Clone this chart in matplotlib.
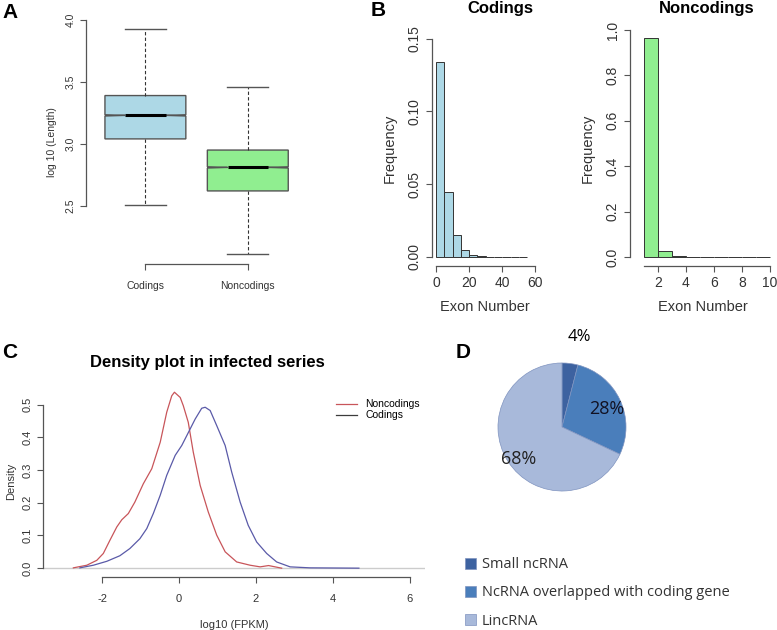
import numpy as np
import matplotlib.pyplot as plt
from matplotlib.lines import Line2D

plt.rcParams['font.family'] = ['Liberation Sans', 'DejaVu Sans']
plt.rcParams['axes.unicode_minus'] = False

# ---- data ----
box_groups = ['Codings', 'Noncodings']
box_q1 = [3.04, 2.62]
box_med = [3.23, 2.81]
box_q3 = [3.39, 2.95]
box_lo = [2.51, 2.11]
box_hi = [3.93, 3.46]

cod_edges = [0, 5, 10, 15, 20, 25, 30, 35, 40, 45, 50, 55]
cod_freq = [0.134, 0.045, 0.015, 0.005, 0.0015, 0.0006, 0.0003, 0.0002, 0.0001, 0.00005, 0.00003]
non_edges = [1, 2, 3, 4, 5, 6, 7, 8, 9, 10]
non_freq = [0.965, 0.027, 0.006, 0.002, 0.001, 0.0005, 0.0003, 0.0002, 0.0001]

nc_x = [-2.75, -2.40, -2.14, -1.97, -1.80, -1.62, -1.49, -1.32, -1.15, -0.93, -0.71,
        -0.49, -0.32, -0.19, -0.12, 0.03, 0.11, 0.24, 0.37, 0.55, 0.76, 0.98, 1.20,
        1.50, 1.85, 2.11, 2.33, 2.50, 2.67]
nc_y = [0.001, 0.009, 0.024, 0.045, 0.085, 0.126, 0.148, 0.167, 0.202, 0.258, 0.304,
        0.385, 0.477, 0.527, 0.538, 0.522, 0.497, 0.446, 0.355, 0.253, 0.172, 0.101, 0.050,
        0.019, 0.009, 0.004, 0.008, 0.004, 0.0]
cd_x = [-2.58, -2.23, -1.88, -1.54, -1.28, -1.02, -0.84, -0.67, -0.49, -0.32, -0.10,
        0.07, 0.20, 0.42, 0.59, 0.68, 0.81, 0.98, 1.20, 1.37, 1.59, 1.80, 2.02, 2.28,
        2.54, 2.89, 3.41, 4.68]
cd_y = [0.001, 0.009, 0.021, 0.038, 0.060, 0.090, 0.121, 0.167, 0.223, 0.284, 0.345,
        0.375, 0.405, 0.456, 0.489, 0.492, 0.482, 0.436, 0.375, 0.294, 0.202, 0.131, 0.080,
        0.045, 0.019, 0.004, 0.001, 0.0]

pie_labels = ['Small ncRNA', 'NcRNA overlapped with coding gene', 'LincRNA']
pie_vals = [4, 28, 68]
pie_colors = ['#3d62a0', '#4a7ebb', '#a8b9da']

W, H = 777, 630
fig = plt.figure(figsize=(W / 100, H / 100), dpi=100)


def px_axes(l, t, r, b):
    return fig.add_axes([l / W, 1 - b / H, (r - l) / W, (b - t) / H])


def r_style(ax, xb, yb, fs):
    for s in ['top', 'right']:
        ax.spines[s].set_visible(False)
    ax.spines['left'].set_bounds(*yb)
    ax.spines['bottom'].set_bounds(*xb)
    for s in ['left', 'bottom']:
        ax.spines[s].set_color('#555555')
        ax.spines[s].set_linewidth(0.9)
    ax.tick_params(colors='#555555', labelcolor='#333333', labelsize=fs, length=4, width=0.8)
    for lab in ax.get_yticklabels():
        lab.set_rotation(90)
        lab.set_va('center')


# ---- A: boxplot ----
axA = px_axes(86, 20, 299, 264)
stats = []
for i, g in enumerate(box_groups):
    stats.append(dict(label=g, med=box_med[i], q1=box_q1[i], q3=box_q3[i],
                      whislo=box_lo[i], whishi=box_hi[i],
                      cilo=box_med[i] - 0.005, cihi=box_med[i] + 0.005, fliers=[]))
bp = axA.bxp(stats, positions=[1, 2], widths=0.79, shownotches=True, patch_artist=True,
             boxprops=dict(edgecolor='#555555', linewidth=1),
             whiskerprops=dict(linestyle=(0, (3, 2)), color='#333333', linewidth=0.8),
             capprops=dict(color='#555555', linewidth=1),
             medianprops=dict(color='black', linewidth=2.2),
             capwidths=0.4)
for patch, c in zip(bp['boxes'], ['#add8e6', '#90ee90']):
    patch.set_facecolor(c)
axA.set_xlim(0.42, 2.5)
axA.set_ylim(2.03, 4.0)
axA.set_yticks([2.5, 3.0, 3.5, 4.0])
axA.set_xticks([1, 2])
axA.set_xticklabels(box_groups)
axA.set_ylabel('log 10 (Length)', fontsize=7.5, color='#333333', labelpad=6)
r_style(axA, (1, 2), (2.5, 4.0), 7.5)
axA.tick_params(axis='x', pad=8)
fig.text(10 / W, 1 - 12 / H, 'A', fontsize=15, fontweight='bold', ha='center', va='center')

# ---- B: histograms ----
axB1 = px_axes(432, 30, 537, 266)
axB1.bar(cod_edges[:-1], cod_freq, width=np.diff(cod_edges), align='edge',
         color='#add8e6', edgecolor='#333333', linewidth=0.7)
axB1.set_xlim(-2.4, 61)
axB1.set_ylim(-0.0062, 0.156)
axB1.set_xticks([0, 20, 40, 60])
axB1.set_yticks([0.0, 0.05, 0.10, 0.15])
axB1.set_yticklabels(['0.00', '0.05', '0.10', '0.15'])
axB1.set_xlabel('Exon Number', fontsize=10.5, color='#333333', labelpad=7)
axB1.set_ylabel('Frequency', fontsize=10.5, color='#333333', labelpad=8)
r_style(axB1, (0, 60), (0, 0.15), 10)
fig.text(500 / W, 1 - 9 / H, 'Codings', fontsize=12, fontweight='bold',
         ha='center', va='center')

axB2 = px_axes(630, 30, 775, 266)
axB2.bar(non_edges[:-1], non_freq, width=np.diff(non_edges), align='edge',
         color='#90ee90', edgecolor='#333333', linewidth=0.7)
axB2.set_xlim(0.0, 10.36)
axB2.set_ylim(-0.0396, 1.0)
axB2.set_xticks([2, 4, 6, 8, 10])
axB2.set_yticks([0.0, 0.2, 0.4, 0.6, 0.8, 1.0])
axB2.set_xlabel('Exon Number', fontsize=10.5, color='#333333', labelpad=7)
axB2.set_ylabel('Frequency', fontsize=10.5, color='#333333', labelpad=8)
r_style(axB2, (1, 10), (0, 1.0), 10)
fig.text(707 / W, 1 - 9 / H, 'Noncodings', fontsize=12, fontweight='bold',
         ha='center', va='center')
fig.text(378 / W, 1 - 10 / H, 'B', fontsize=15, fontweight='bold', ha='center', va='center')

# ---- C: density ----
axC = px_axes(43, 386, 425, 577)
axC.axhline(0, color='#cccccc', linewidth=1)
axC.plot(nc_x, nc_y, color='#c8555a', linewidth=0.9, label='Noncodings')
axC.plot(cd_x, cd_y, color='#5a5aa8', linewidth=0.9, label='Codings')
axC.set_xlim(-3.54, 6.4)
axC.set_ylim(-0.027, 0.557)
axC.set_xticks([-2, 0, 2, 4, 6])
axC.set_yticks([0.0, 0.1, 0.2, 0.3, 0.4, 0.5])
axC.set_xlabel('log10 (FPKM)', fontsize=8, color='#333333', labelpad=12)
axC.set_ylabel('Density', fontsize=8, color='#333333', labelpad=5)
r_style(axC, (-2, 6), (0, 0.5), 8)
axC.tick_params(axis='x', pad=8)
fig.text(207 / W, 1 - 363 / H, 'Density plot in infected series', fontsize=12,
         fontweight='bold', ha='center', va='center')
handles = [Line2D([], [], color='#c8555a', lw=0.9), Line2D([], [], color='#3c3c3c', lw=0.9)]
fig.legend(handles, ['Noncodings', 'Codings'], loc='upper left',
           bbox_to_anchor=(331 / W, 1 - 394 / H), frameon=False, fontsize=7.5,
           handlelength=2, handletextpad=0.8, labelspacing=0.1, borderpad=0)
fig.text(10 / W, 1 - 352 / H, 'C', fontsize=15, fontweight='bold', ha='center', va='center')

# ---- D: pie ----
axD = px_axes(482, 347, 642, 507)
wedges, _ = axD.pie(pie_vals, colors=pie_colors, startangle=90, counterclock=False,
                    wedgeprops=dict(edgecolor='#7f93bf', linewidth=0.5))
axD.set_aspect('equal')
pfont = ['Open Sans', 'DejaVu Sans']
fig.text(579 / W, 1 - 337 / H, '4%', fontsize=12, family=pfont, ha='center', va='center')
fig.text(607 / W, 1 - 409 / H, '28%', fontsize=13, family=pfont, ha='center', va='center',
         color='#111122')
fig.text(519 / W, 1 - 459 / H, '68%', fontsize=13, family=pfont, ha='center', va='center',
         color='#222222')
fig.text(463 / W, 1 - 353 / H, 'D', fontsize=15, fontweight='bold', ha='center', va='center')
fig.legend(wedges, pie_labels, loc='upper left', bbox_to_anchor=(458 / W, 1 - 550 / H),
           frameon=False, prop=dict(family=pfont, size=10.5), handlelength=0.75,
           handleheight=0.75, handletextpad=0.4, labelspacing=0.9, borderpad=0,
           labelcolor='#333333')

fig.savefig('out.png', dpi=100)
